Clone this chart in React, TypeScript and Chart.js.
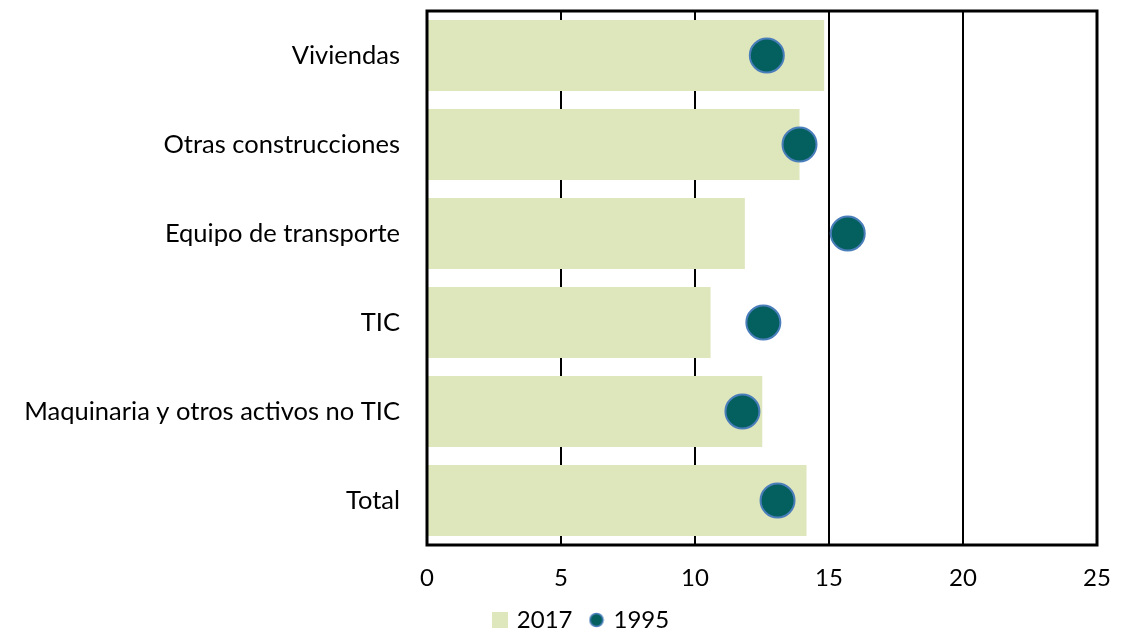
import React, { useEffect, useRef } from "react";
import { Chart, registerables } from "chart.js";

Chart.register(...registerables);

const categories = [
  "Viviendas",
  "Otras construcciones",
  "Equipo de transporte",
  "TIC",
  "Maquinaria y otros activos no TIC",
  "Total",
];
const values2017 = [14.82, 13.9, 11.86, 10.58, 12.51, 14.16];
const values1995 = [12.68, 13.9, 15.7, 12.55, 11.77, 13.08];
const xTicks = [0, 5, 10, 15, 20, 25];

const FONT = "Lato, 'Liberation Sans', sans-serif";
const BAR_COLOR = "#DEE6BB";
const DOT_FILL = "#04605F";
const DOT_BORDER = "#4A7EBB";

const LEGEND_SHIFT = 33.5;

const framePlugin = {
  id: "frame",
  afterLayout(chart: any) {
    const lg = chart.legend;
    if (lg) {
      lg.left += LEGEND_SHIFT;
      lg.right += LEGEND_SHIFT;
    }
  },
  afterDatasetsDraw(chart: any) {
    const { ctx, chartArea } = chart;
    ctx.save();
    ctx.strokeStyle = "#000";
    ctx.lineWidth = 3;
    ctx.strokeRect(
      chartArea.left,
      chartArea.top,
      chartArea.right - chartArea.left,
      chartArea.bottom - chartArea.top
    );
    ctx.restore();
  },
};

function makeSquare(): HTMLCanvasElement {
  const c = document.createElement("canvas");
  c.width = 16;
  c.height = 16;
  const g = c.getContext("2d")!;
  g.fillStyle = BAR_COLOR;
  g.fillRect(0, 0, 16, 16);
  return c;
}

function makeCircle(): HTMLCanvasElement {
  const c = document.createElement("canvas");
  c.width = 16;
  c.height = 16;
  const g = c.getContext("2d")!;
  g.beginPath();
  g.arc(8, 8, 6.5, 0, Math.PI * 2);
  g.fillStyle = DOT_FILL;
  g.fill();
  g.lineWidth = 1.5;
  g.strokeStyle = DOT_BORDER;
  g.stroke();
  return c;
}

export default function App() {
  const ref = useRef<HTMLCanvasElement>(null);
  useEffect(() => {
    if (!ref.current) return;
    const sq = makeSquare();
    const ci = makeCircle();
    const chart = new Chart(ref.current, {
      type: "bar",
      data: {
        labels: categories,
        datasets: [
          {
            type: "line",
            label: "1995",
            data: values1995,
            showLine: false,
            pointRadius: 17,
            pointHoverRadius: 17,
            pointBackgroundColor: DOT_FILL,
            pointBorderColor: DOT_BORDER,
            pointBorderWidth: 2,
            backgroundColor: DOT_FILL,
            borderColor: DOT_BORDER,
            order: 0,
          } as any,
          {
            type: "bar",
            label: "2017",
            data: values2017,
            backgroundColor: BAR_COLOR,
            borderWidth: 0,
            categoryPercentage: 1,
            barPercentage: 0.8,
            order: 1,
          },
        ],
      },
      options: {
        indexAxis: "y",
        animation: false,
        responsive: true,
        maintainAspectRatio: false,
        layout: { autoPadding: false, padding: { top: 11, right: 48, left: 0, bottom: 0 } },
        scales: {
          x: {
            min: 0,
            max: 25,
            afterBuildTicks: (axis: any) => {
              axis.ticks = xTicks.map((v) => ({ value: v }));
            },
            afterFit: (axis: any) => {
              axis.height = 44;
              axis.paddingLeft = 0;
              axis.paddingRight = 0;
            },
            grid: {
              color: "#000",
              lineWidth: 2,
              drawTicks: false,
            },
            border: { display: false },
            ticks: {
              color: "#000",
              font: { family: FONT, size: 24 },
              padding: 19,
            },
          },
          y: {
            afterFit: (axis: any) => {
              axis.width = 427;
              axis.paddingTop = 0;
              axis.paddingBottom = 0;
            },
            grid: { display: false, drawTicks: false },
            border: { display: false },
            ticks: {
              color: "#000",
              font: { family: FONT, size: 25.5 },
              padding: 27,
            },
          },
        },
        plugins: {
          legend: {
            position: "bottom",
            reverse: true,
            labels: {
              color: "#000",
              font: { family: FONT, size: 24 },
              usePointStyle: true,
              boxWidth: 10,
              boxHeight: 16,
              padding: 19,
              generateLabels: (chart: any) => {
                const items = Chart.defaults.plugins.legend.labels.generateLabels(chart);
                return items.map((it: any) => {
                  it.pointStyle = it.text === "2017" ? sq : ci;
                  return it;
                });
              },
            },
          },
          tooltip: { enabled: false },
        },
      },
      plugins: [framePlugin],
    });
    return () => chart.destroy();
  }, []);

  return (
    <div style={{ position: "absolute", left: 0, top: 0, width: 1145, height: 642, background: "#fff" }}>
      <canvas ref={ref} />
    </div>
  );
}
